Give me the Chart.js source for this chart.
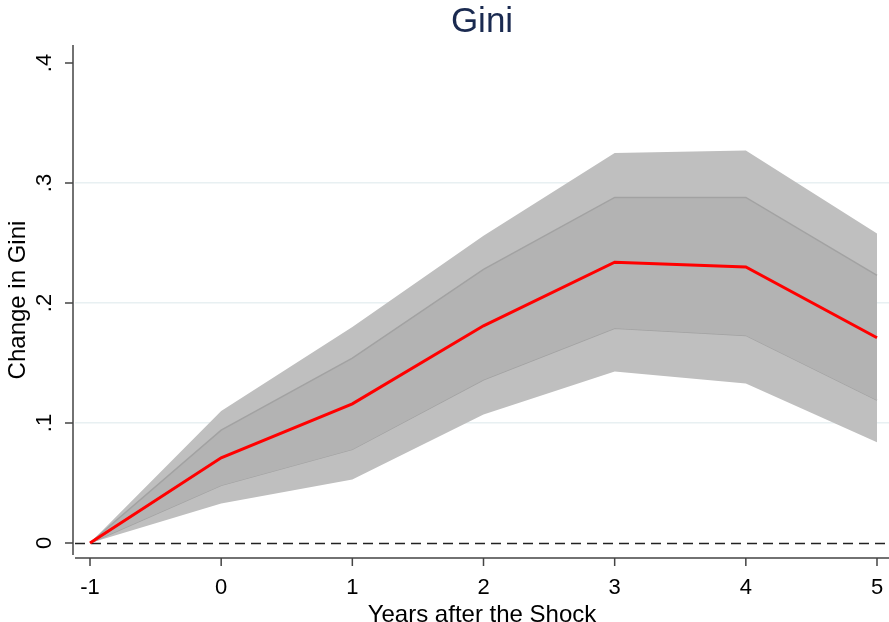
<!DOCTYPE html>
<html>
<head>
<meta charset="utf-8">
<script src="https://cdn.jsdelivr.net/npm/chart.js@4.4.1/dist/chart.umd.min.js"></script>
<style>
  html, body { margin: 0; padding: 0; background: #fff; }
  #grafica { display: block; }
</style>
</head>
<body>
<canvas id="grafica" width="889" height="622"></canvas>
<script>
var anios = [-1, 0, 1, 2, 3, 4, 5]
var gini = [0, 0.071, 0.116, 0.181, 0.234, 0.230, 0.171]
var banda90Sup = [0, 0.110, 0.180, 0.256, 0.325, 0.327, 0.258]
var banda90Inf = [0, 0.033, 0.053, 0.107, 0.143, 0.133, 0.084]
var banda68Sup = [0, 0.094, 0.154, 0.228, 0.288, 0.288, 0.223]
var banda68Inf = [0, 0.048, 0.078, 0.136, 0.179, 0.173, 0.119]
var ticksY = [0, 0.1, 0.2, 0.3, 0.4]
var etiquetasY = ['0', '.1', '.2', '.3', '.4']
var titulo = 'Gini'

function puntos(valores) {
    return anios.map(function (a, i) { return { x: a, y: valores[i] } })
}

var fuente = 'Liberation Sans, Arial, Helvetica, sans-serif'

// ejes al estilo stata: separados del area, con etiquetas y giradas
var ejesStata = {
    id: 'ejesStata',
    beforeDatasetsDraw: function (chart) {
        var ctx = chart.ctx
        var area = chart.chartArea
        var y0 = Math.round(chart.scales.y.getPixelForValue(0)) + 0.5
        ctx.save()
        ctx.strokeStyle = '#222'
        ctx.lineWidth = 1.3
        ctx.setLineDash([10, 6])
        ctx.beginPath()
        ctx.moveTo(area.left, y0)
        ctx.lineTo(area.right, y0)
        ctx.stroke()
        ctx.restore()
    },
    afterDraw: function (chart) {
        var ctx = chart.ctx
        var area = chart.chartArea
        var xs = chart.scales.x
        var ys = chart.scales.y
        ctx.save()
        ctx.strokeStyle = '#444'
        ctx.lineWidth = 1.5
        ctx.beginPath()
        ctx.moveTo(area.left - 2, area.top)
        ctx.lineTo(area.left - 2, area.bottom)
        ctx.moveTo(area.left, area.bottom + 3)
        ctx.lineTo(area.right, area.bottom + 3)
        ticksY.forEach(function (v) {
            var p = ys.getPixelForValue(v)
            ctx.moveTo(area.left - 2, p)
            ctx.lineTo(area.left - 10, p)
        })
        anios.forEach(function (a) {
            var p = xs.getPixelForValue(a)
            ctx.moveTo(p, area.bottom + 3)
            ctx.lineTo(p, area.bottom + 11)
        })
        ctx.stroke()

        ctx.fillStyle = '#000'
        ctx.font = '22px ' + fuente
        ctx.textAlign = 'center'
        ctx.textBaseline = 'middle'
        ticksY.forEach(function (v, i) {
            var p = ys.getPixelForValue(v)
            ctx.save()
            ctx.translate(45, p)
            ctx.rotate(-Math.PI / 2)
            ctx.fillText(etiquetasY[i], 0, 0)
            ctx.restore()
        })

        // titulo centrado sobre el area del grafico
        ctx.fillStyle = '#1a2a50'
        ctx.font = '35px ' + fuente
        ctx.fillText(titulo, (area.left + area.right) / 2, 22)
        ctx.restore()
    }
}

// el primer dataset se dibuja encima, por eso la linea roja va primero
var graf = new Chart('grafica', {
    type: 'line',
    data: {
        datasets: [
            { data: puntos(gini), borderWidth: 3, pointRadius: 0, fill: false, borderColor: '#ff0000' },
            { data: puntos(banda68Sup), borderWidth: 1.5, pointRadius: 0, fill: '+1', backgroundColor: '#b3b3b3', borderColor: '#a2a2a2' },
            { data: puntos(banda68Inf), borderWidth: 1.5, pointRadius: 0, fill: false, borderColor: '#a2a2a2' },
            { data: puntos(banda90Sup), borderWidth: 0, pointRadius: 0, fill: '+1', backgroundColor: '#bfbfbf', borderColor: '#bfbfbf' },
            { data: puntos(banda90Inf), borderWidth: 0, pointRadius: 0, fill: false, borderColor: '#bfbfbf' }
        ]
    },
    options: {
        responsive: false,
        animation: false,
        layout: { padding: { top: 45, right: 0, bottom: 0, left: 0 }, autoPadding: false },
        plugins: {
            legend: { display: false },
            tooltip: { enabled: false },
            title: { display: false }
        },
        scales: {
            x: {
                type: 'linear',
                min: -1.1144,
                max: 5.0915,
                afterBuildTicks: function (s) { s.ticks = anios.map(function (a) { return { value: a } }) },
                afterFit: function (s) {
                    s.height = 67
                    s.paddingLeft = 0
                    s.paddingRight = 0
                },
                grid: { display: false },
                border: { display: false },
                ticks: {
                    color: '#000',
                    font: { family: fuente, size: 22 },
                    padding: 12,
                    maxRotation: 0,
                    callback: function (v) { return String(v) }
                },
                title: {
                    display: true,
                    text: 'Years after the Shock',
                    color: '#000',
                    font: { family: fuente, size: 24 },
                    padding: { top: 0, bottom: -8 }
                }
            },
            y: {
                min: -0.01,
                max: 0.415,
                afterBuildTicks: function (s) { s.ticks = ticksY.map(function (v) { return { value: v } }) },
                afterFit: function (s) { s.width = 75 },
                grid: {
                    drawTicks: false,
                    lineWidth: 1.5,
                    color: function (c) {
                        var v = c.tick ? Math.round(c.tick.value * 10) : -1
                        return (v >= 1 && v <= 3) ? '#e8f0f2' : 'rgba(0,0,0,0)'
                    }
                },
                border: { display: false },
                ticks: { display: false },
                title: {
                    display: true,
                    text: 'Change in Gini',
                    color: '#000',
                    font: { family: fuente, size: 24 },
                    padding: { top: 4, bottom: 0 }
                }
            }
        }
    },
    plugins: [ejesStata]
})
</script>
</body>
</html>
